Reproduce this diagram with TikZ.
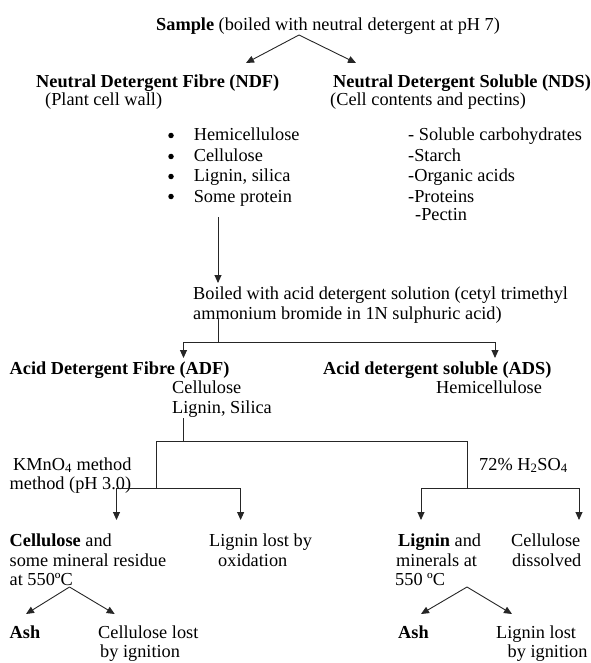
\documentclass[tikz,border=0pt]{standalone}
\usepackage{fontspec}
\setmainfont{Liberation Serif}
\usetikzlibrary{arrows.meta}
\begin{document}
\begin{tikzpicture}[x=1pt,y=-1pt,
  txt/.style={inner sep=0pt,anchor=base west,font=\fontsize{18.3}{20}\selectfont},
  bul/.style={circle,fill=black,inner sep=0pt,minimum size=5.5pt},
  arr/.style={-{Triangle[length=8pt,width=7pt]},line width=0.9pt,draw=black!85},
  ln/.style={line width=0.9pt,draw=black!85}]
\useasboundingbox (0,0) rectangle (590,663);
% texts
\node[txt] (sample) at (156,31) {\textbf{Sample} (boiled with neutral detergent at pH 7)};
\node[txt] (ndf) at (36,88) {\textbf{Neutral Detergent Fibre (NDF)}};
\node[txt] (ndfsub) at (45,106) {(Plant cell wall)};
\node[txt] (nds) at (333,88) {\textbf{Neutral Detergent Soluble (NDS)}};
\node[txt] (ndssub) at (330,106) {(Cell contents and pectins)};
\node[bul] (b1) at (171,135.5) {}; \node[txt] (i1) at (193.6,141) {Hemicellulose};
\node[bul] (b2) at (171,156.5) {}; \node[txt] (i2) at (193.6,162) {Cellulose};
\node[bul] (b3) at (171,176.5) {}; \node[txt] (i3) at (193.6,182) {Lignin, silica};
\node[bul] (b4) at (171,196.5) {}; \node[txt] (i4) at (193.6,202) {Some protein};
\node[txt] (s1) at (408,141) {- Soluble carbohydrates};
\node[txt] (s2) at (408,162) {-Starch};
\node[txt] (s3) at (408,182) {-Organic acids};
\node[txt] (s4) at (408,202) {-Proteins};
\node[txt] (s5) at (415,220) {-Pectin};
\node[txt] (boil1) at (193,299) {Boiled with acid detergent solution (cetyl trimethyl};
\node[txt] (boil2) at (193,319) {ammonium bromide in 1N sulphuric acid)};
\node[txt] (adf) at (9.5,374) {\textbf{Acid Detergent Fibre (ADF)}};
\node[txt] (adf1) at (172,393) {Cellulose};
\node[txt] (adf2) at (172,413) {Lignin, Silica};
\node[txt] (ads) at (323,374) {\textbf{Acid detergent soluble (ADS)}};
\node[txt] (ads1) at (436,393) {Hemicellulose};
\node[txt] (km1) at (13,470) {KMnO\textsubscript{4} method};
\node[txt] (km2) at (9.5,489) {method (pH 3.0)};
\node[txt] (hs) at (479,470) {72\% H\textsubscript{2}SO\textsubscript{4}};
\node[txt] (ce1) at (9.5,546) {\textbf{Cellulose} and};
\node[txt] (ce2) at (9.5,566) {some mineral residue};
\node[txt] (ce3) at (9.5,585) {at 550ºC};
\node[txt] (lo1) at (209,546) {Lignin lost by};
\node[txt] (lo2) at (218,566) {oxidation};
\node[txt] (li1) at (398,546) {\textbf{Lignin} and};
\node[txt] (li2) at (396,566) {minerals at};
\node[txt] (li3) at (395,585) {550 ºC};
\node[txt] (cd1) at (511,546) {Cellulose};
\node[txt] (cd2) at (512,566) {dissolved};
\node[txt] (ash1) at (9.5,638) {\textbf{Ash}};
\node[txt] (cl1) at (98,638) {Cellulose lost};
\node[txt] (cl2) at (100,657.5) {by ignition};
\node[txt] (ash2) at (398,638) {\textbf{Ash}};
\node[txt] (ll1) at (496,638) {Lignin lost};
\node[txt] (ll2) at (507.5,657.5) {by ignition};
% coordinates
\coordinate (sA) at (299,35);
\coordinate (sL) at (246,63);
\coordinate (sR) at (356,63);
\coordinate (v1a) at (218,217);
\coordinate (v1b) at (218,283);
\coordinate (v2a) at (218,318);
\coordinate (v2b) at (218,342);
\coordinate (hL) at (183.5,342);
\coordinate (hR) at (495,342);
\coordinate (hLt) at (183.5,358);
\coordinate (hRt) at (495,358);
\coordinate (v3a) at (183.5,418);
\coordinate (v3b) at (183.5,441);
\coordinate (kL) at (156,441);
\coordinate (kR) at (467,441);
\coordinate (kLb) at (156,488);
\coordinate (kRb) at (467,488);
\coordinate (m1) at (116.5,488);
\coordinate (m2) at (240.6,488);
\coordinate (m1t) at (116.5,520);
\coordinate (m2t) at (240.6,520);
\coordinate (n1) at (421,488);
\coordinate (n2) at (579,488);
\coordinate (n1t) at (421,520);
\coordinate (n2t) at (579,520);
\coordinate (pA) at (69.5,587);
\coordinate (pL) at (26,614);
\coordinate (pR) at (114.7,614);
\coordinate (qA) at (467,587);
\coordinate (qL) at (421,614);
\coordinate (qR) at (512,614);
% connectors
\draw[arr] (sA) -- (sL);
\draw[arr] (sA) -- (sR);
\draw[arr] (v1a) -- (v1b);
\draw[ln] (v2a) -- (v2b);
\draw[ln] (hL) -- (hR);
\draw[arr] (hL) -- (hLt);
\draw[arr] (hR) -- (hRt);
\draw[ln] (v3a) -- (v3b);
\draw[ln] (kLb) -- (kL) -- (kR) -- (kRb);
\draw[ln] (m1) -- (m2);
\draw[arr] (m1) -- (m1t);
\draw[arr] (m2) -- (m2t);
\draw[ln] (n1) -- (n2);
\draw[arr] (n1) -- (n1t);
\draw[arr] (n2) -- (n2t);
\draw[arr] (pA) -- (pL);
\draw[arr] (pA) -- (pR);
\draw[arr] (qA) -- (qL);
\draw[arr] (qA) -- (qR);
\end{tikzpicture}
\end{document}
